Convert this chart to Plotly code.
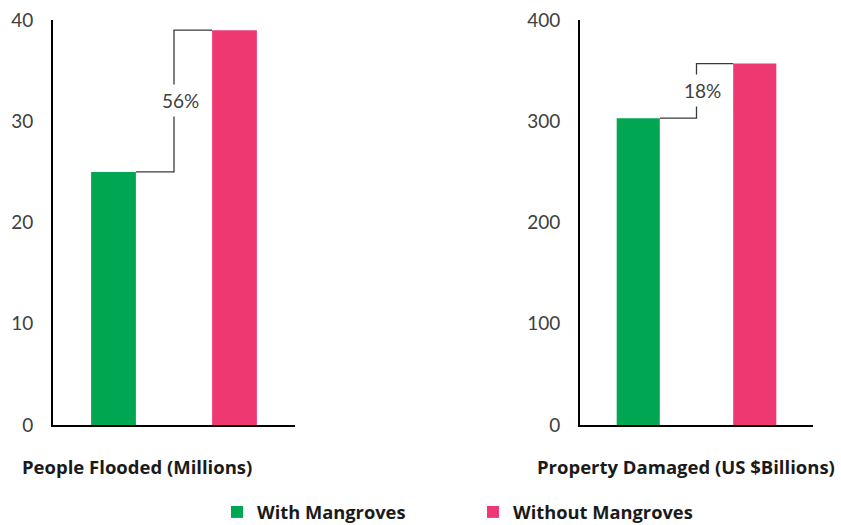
import plotly.graph_objects as go

categories = ["With Mangroves", "Without Mangroves"]
people_flooded = [25, 39]          # millions
property_damaged = [303, 357]      # US $ billions
titles = ["People Flooded (Millions)", "Property Damaged (US $Billions)"]
y_ranges = [[0, 40], [0, 400]]
y_ticks = [[0, 10, 20, 30, 40], [0, 100, 200, 300, 400]]
colors = ["#00A651", "#EE3872"]

W, H = 841, 525
FONT = "Lato"
BOLD_FONT = "Open Sans"
BAR_W = 0.37

def px_x(p):
    return p / W

def px_y(p):
    return 1 - p / H

fig = go.Figure()
series = [people_flooded, property_damaged]
axes = [("x", "y"), ("x2", "y2")]

for i, vals in enumerate(series):
    xa, ya = axes[i]
    for j, cat in enumerate(categories):
        fig.add_trace(go.Bar(
            x=[cat], y=[vals[j]], name=cat, marker_color=colors[j],
            marker_line_width=0, width=BAR_W, xaxis=xa, yaxis=ya,
            legendgroup=cat, showlegend=(i == 0), hoverinfo="skip"))
    v0, v1 = vals
    line = dict(color="#3a3a3a", width=1.3)
    fig.add_shape(type="path", xref=xa, yref=ya, layer="above",
                  path=f"M {0 + BAR_W/2} {v0} L 0.5 {v0} L 0.5 {v1} L {1 - BAR_W/2} {v1}",
                  line=line)
    pct = round((v1 - v0) / v0 * 100)
    fig.add_annotation(x=0.5, y=(v0 + v1) / 2, xref=xa, yref=ya, text=f"{pct}%",
                       showarrow=False, xshift=6, bgcolor="white", borderpad=4,
                       font=dict(family=FONT, size=19, color="#404040"))

common_x = dict(type="category", showline=True, linecolor="black", linewidth=2,
                showticklabels=False, ticks="", showgrid=False, zeroline=False,
                range=[-0.5, 1.5], fixedrange=True, automargin=False)
common_y = dict(showline=True, linecolor="black", linewidth=2, showgrid=False,
                zeroline=False, ticks="", ticklabelstandoff=14, automargin=False,
                tickfont=dict(family=FONT, size=19, color="#404040"))

fig.update_layout(
    width=W, height=H, margin=dict(l=0, r=0, t=0, b=0, autoexpand=False),
    paper_bgcolor="white", plot_bgcolor="white", barmode="overlay",
    xaxis=dict(domain=[px_x(53), px_x(295)], anchor="y", **common_x),
    yaxis=dict(domain=[px_y(425), px_y(20)], anchor="x", range=y_ranges[0],
               tickvals=y_ticks[0], **common_y),
    xaxis2=dict(domain=[px_x(580), px_x(813)], anchor="y2", **common_x),
    yaxis2=dict(domain=[px_y(425), px_y(20)], anchor="x2", range=y_ranges[1],
                tickvals=y_ticks[1], **common_y),
    legend=dict(orientation="h", x=px_x(217), xanchor="left", y=px_y(512),
                yanchor="middle", entrywidth=211, entrywidthmode="pixels",
                font=dict(family=BOLD_FONT, size=18.3, color="#1a1a1a", weight="bold"),
                itemclick=False, itemdoubleclick=False),
    showlegend=True,
)

for k, x0 in enumerate([20, 535]):
    fig.add_annotation(x=px_x(x0), y=px_y(466), xref="paper", yref="paper",
                       xanchor="left", yanchor="middle", showarrow=False,
                       text=f"<b>{titles[k]}</b>",
                       font=dict(family=BOLD_FONT, size=18.5, color="#1a1a1a"))

fig.write_html("out.html", config={"displayModeBar": False})
